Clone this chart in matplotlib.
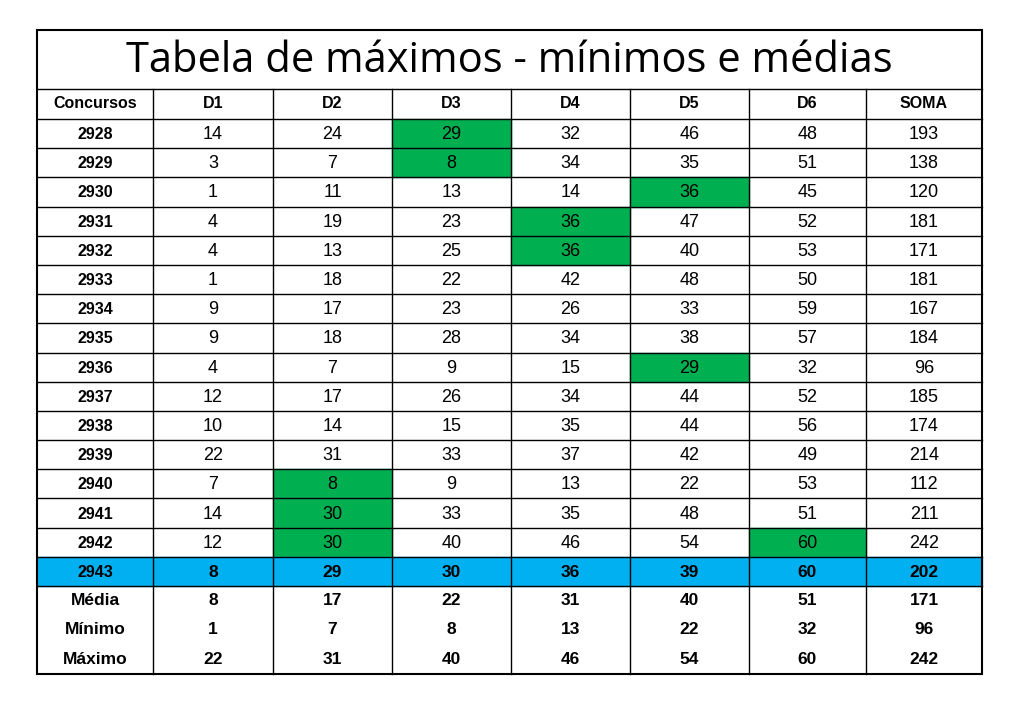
import matplotlib
matplotlib.use("Agg")
import matplotlib.pyplot as plt
from matplotlib.patches import Rectangle

title = "Tabela de máximos - mínimos e médias"
headers = ["Concursos", "D1", "D2", "D3", "D4", "D5", "D6", "SOMA"]
concursos = [2928, 2929, 2930, 2931, 2932, 2933, 2934, 2935, 2936, 2937, 2938, 2939, 2940, 2941, 2942, 2943]
d1 = [14, 3, 1, 4, 4, 1, 9, 9, 4, 12, 10, 22, 7, 14, 12, 8]
d2 = [24, 7, 11, 19, 13, 18, 17, 18, 7, 17, 14, 31, 8, 30, 30, 29]
d3 = [29, 8, 13, 23, 25, 22, 23, 28, 9, 26, 15, 33, 9, 33, 40, 30]
d4 = [32, 34, 14, 36, 36, 42, 26, 34, 15, 34, 35, 37, 13, 35, 46, 36]
d5 = [46, 35, 36, 47, 40, 48, 33, 38, 29, 44, 44, 42, 22, 48, 54, 39]
d6 = [48, 51, 45, 52, 53, 50, 59, 57, 32, 52, 56, 49, 53, 51, 60, 60]
soma = [193, 138, 120, 181, 171, 181, 167, 184, 96, 185, 174, 214, 112, 211, 242, 202]
summary_labels = ["Média", "Mínimo", "Máximo"]
media = [8, 17, 22, 31, 40, 51, 171]
minimo = [1, 7, 8, 13, 22, 32, 96]
maximo = [22, 31, 40, 46, 54, 60, 242]
# highlighted cells: (row index, column index in headers)
green_cells = [(0, 3), (1, 3), (2, 5), (3, 4), (4, 4), (8, 5), (12, 2), (13, 2), (14, 2), (14, 6)]

GREEN = "#00B050"
BLUE = "#00B0F0"

fig = plt.figure(figsize=(10.17, 7.04), dpi=100)
ax = fig.add_axes([0, 0, 1, 1])
ax.set_xlim(0, 1017)
ax.set_ylim(704, 0)
ax.axis("off")

col_x = [37, 153, 273, 392, 511, 630, 749, 866, 982]
top, title_bot = 30, 89
hdr_bot = 119
row_h = (586 - 119) / 16
bottom = 674
sum_h = (bottom - 586) / 3

ax.text((col_x[0] + col_x[-1]) / 2, (top + title_bot) / 2 + 2, title, ha="center", va="center",
        fontsize=30, family="Open Sans")

for j, h in enumerate(headers):
    ax.text((col_x[j] + col_x[j + 1]) / 2, (title_bot + hdr_bot) / 2, h, ha="center", va="center",
            fontsize=11.5, fontweight="bold", family="Liberation Sans")

cols = [d1, d2, d3, d4, d5, d6, soma]
n = len(concursos)
for i in range(n):
    y0 = hdr_bot + i * row_h
    last = i == n - 1
    if last:
        ax.add_patch(Rectangle((col_x[0], y0), col_x[-1] - col_x[0], row_h, color=BLUE, zorder=0))
    for j in range(8):
        if (i, j) in green_cells:
            ax.add_patch(Rectangle((col_x[j], y0), col_x[j + 1] - col_x[j], row_h, color=GREEN, zorder=0))
        val = concursos[i] if j == 0 else cols[j - 1][i]
        bold = j == 0 or last
        if last and j > 0:
            fs = 12.5
        elif bold:
            fs = 11.5
        else:
            fs = 13
        ax.text((col_x[j] + col_x[j + 1]) / 2, y0 + row_h / 2 + 1, str(val), ha="center", va="center",
                fontsize=fs, fontweight="bold" if bold else "normal",
                family="Liberation Sans")
    ax.plot([col_x[0], col_x[-1]], [y0, y0], color="black", lw=1)
ax.plot([col_x[0], col_x[-1]], [586, 586], color="black", lw=1)

for k, (lab, vals) in enumerate(zip(summary_labels, [media, minimo, maximo])):
    yc = 586 + (k + 0.5) * sum_h
    ax.text((col_x[0] + col_x[1]) / 2, yc, lab, ha="center", va="center", fontsize=12.5,
            fontweight="bold", family="Liberation Sans")
    for j, v in enumerate(vals):
        ax.text((col_x[j + 1] + col_x[j + 2]) / 2, yc, str(v), ha="center", va="center",
                fontsize=12.5, fontweight="bold", family="Liberation Sans")

ax.plot([col_x[0], col_x[-1]], [title_bot, title_bot], color="black", lw=1)
for x in col_x[1:-1]:
    ax.plot([x, x], [title_bot, bottom], color="black", lw=1)
ax.add_patch(Rectangle((col_x[0], top), col_x[-1] - col_x[0], bottom - top, fill=False,
                       edgecolor="black", lw=1.5))

fig.savefig("out.png", dpi=100)
